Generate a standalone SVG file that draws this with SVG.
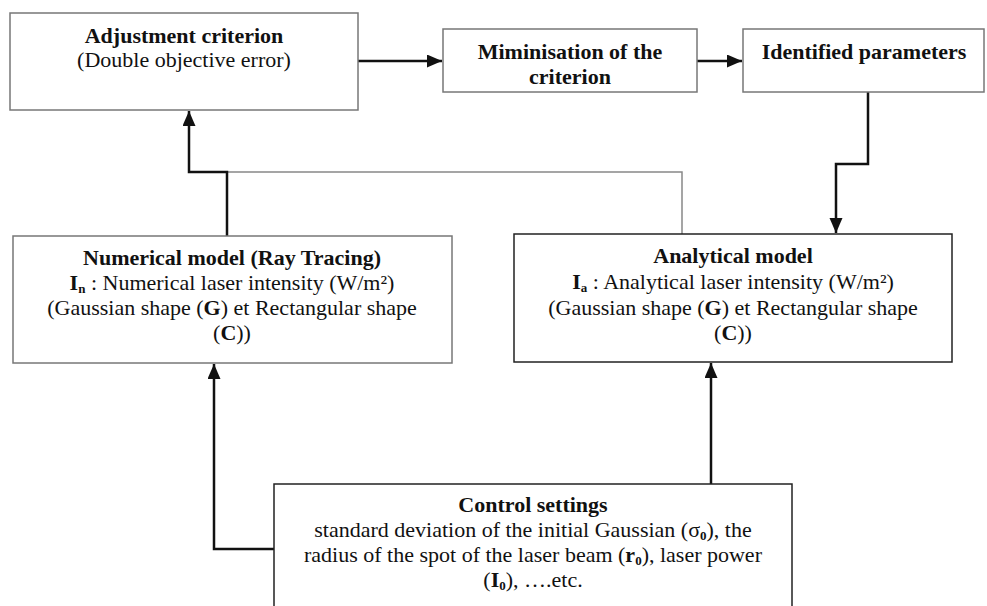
<svg xmlns="http://www.w3.org/2000/svg" width="987" height="606" viewBox="0 0 987 606">
<style>
  .box { fill: #ffffff; stroke: #777777; stroke-width: 1.5; }
  .boxd { fill: #ffffff; stroke: #222222; stroke-width: 1.5; }
  .t { font-family: "Liberation Serif", "Times New Roman", serif; font-size: 22px; fill: #111111; text-anchor: middle; }
  .b { font-weight: bold; }
  .sub { font-size: 13px; font-weight: bold; }
  .conn { fill: none; stroke: #111111; stroke-width: 2.5; }
  .thin { fill: none; stroke: #888888; stroke-width: 1.5; }
</style>
<defs>
  <marker id="arr" markerUnits="userSpaceOnUse" markerWidth="16" markerHeight="14" refX="15" refY="6.5" orient="auto">
    <path d="M0,0 L15,6.5 L0,13 Z" fill="#111111"/>
  </marker>
</defs>
<rect width="987" height="606" fill="#ffffff"/>

<g id="connectors">
  <path class="thin" d="M682,234 V172 H227"/>
  <path class="conn" d="M358,61 H442" marker-end="url(#arr)"/>
  <path class="conn" d="M697,61 H742" marker-end="url(#arr)"/>
  <path class="conn" d="M868,92 V164 H836 V233" marker-end="url(#arr)"/>
  <path class="conn" d="M227,236 V172 H189 V111" marker-end="url(#arr)"/>
  <path class="conn" d="M274,549 H214 V364" marker-end="url(#arr)"/>
  <path class="conn" d="M711,484 V363" marker-end="url(#arr)"/>
</g>

<g id="adjustment">
  <rect class="box" x="10" y="13" width="348" height="97"/>
  <text class="t b" x="184" y="43">Adjustment criterion</text>
  <text class="t" x="184" y="67">(Double objective error)</text>
</g>

<g id="minimisation">
  <rect class="box" x="443" y="29" width="254" height="63"/>
  <text class="t b" x="570" y="59">Miminisation of the</text>
  <text class="t b" x="570" y="84">criterion</text>
</g>

<g id="identified">
  <rect class="box" x="743" y="29" width="241" height="63"/>
  <text class="t b" x="864" y="59">Identified parameters</text>
</g>

<g id="numerical">
  <rect class="box" x="13" y="236" width="439" height="127"/>
  <text class="t b" x="232" y="265">Numerical model (Ray Tracing)</text>
  <text class="t" x="232" y="290"><tspan class="b">I</tspan><tspan class="sub" dy="3">n</tspan><tspan dy="-3"> : Numerical laser intensity (W/m²)</tspan></text>
  <text class="t" x="232" y="315">(Gaussian shape (<tspan class="b">G</tspan>) et Rectangular shape</text>
  <text class="t" x="232" y="340">(<tspan class="b">C</tspan>))</text>
</g>

<g id="analytical">
  <rect class="boxd" x="514" y="234" width="438" height="128"/>
  <text class="t b" x="733" y="263">Analytical model</text>
  <text class="t" x="733" y="289"><tspan class="b">I</tspan><tspan class="sub" dy="3">a</tspan><tspan dy="-3"> : Analytical laser intensity (W/m²)</tspan></text>
  <text class="t" x="733" y="315">(Gaussian shape (<tspan class="b">G</tspan>) et Rectangular shape</text>
  <text class="t" x="733" y="340">(<tspan class="b">C</tspan>))</text>
</g>

<g id="control">
  <rect class="boxd" x="274" y="484" width="518" height="140"/>
  <text class="t b" x="533" y="512">Control settings</text>
  <text class="t" x="533" y="537">standard deviation of the initial Gaussian (σ<tspan class="sub" dy="3">0</tspan><tspan dy="-3">), the</tspan></text>
  <text class="t" x="533" y="562">radius of the spot of the laser beam (<tspan class="b">r</tspan><tspan class="sub" dy="3">0</tspan><tspan dy="-3">), laser power</tspan></text>
  <text class="t" x="533" y="587">(<tspan class="b">I</tspan><tspan class="sub" dy="3">0</tspan><tspan dy="-3">), ….etc.</tspan></text>
</g>
</svg>
